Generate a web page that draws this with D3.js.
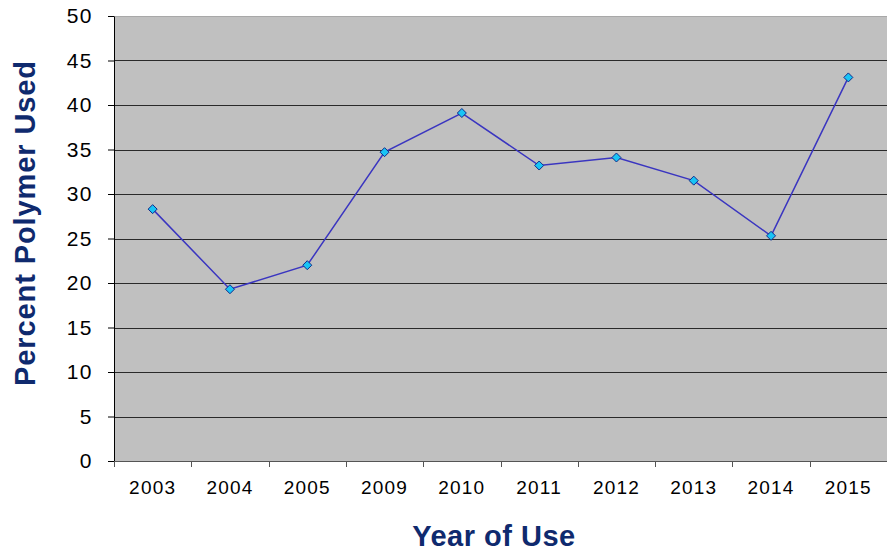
<!DOCTYPE html>
<html>
<head>
<meta charset="utf-8">
<script src="https://cdn.jsdelivr.net/npm/d3@7"></script>
<style>
  html, body { margin: 0; padding: 0; background: #ffffff; }
  svg { display: block; }
  text { font-family: Arial, "Liberation Sans", sans-serif; }
</style>
</head>
<body>
<svg id="chart" width="887" height="555"></svg>
<script>
// Year of use and share of polymer used (%)
const years = ["2003", "2004", "2005", "2009", "2010", "2011", "2012", "2013", "2014", "2015"];
const percentUsed = [28.3, 19.3, 22.0, 34.7, 39.1, 33.2, 34.1, 31.5, 25.3, 43.1];
const yTicks = [0, 5, 10, 15, 20, 25, 30, 35, 40, 45, 50];

const svg = d3.select("#chart");
const margin = { left: 114, right: 0, top: 16, bottom: 94 };
const width = 887 - margin.left - margin.right;
const height = 555 - margin.top - margin.bottom;

const g = svg.append("g").attr("transform", `translate(${margin.left},${margin.top})`);

const x = d3.scaleBand().domain(years).range([0, width]);
const y = d3.scaleLinear().domain([0, 50]).range([height, 0]);

// plot background
g.append("rect")
  .attr("width", width).attr("height", height)
  .attr("fill", "#c0c0c0");

// horizontal grid lines
g.append("g")
  .selectAll("line")
  .data(yTicks.filter(d => d > 0))
  .join("line")
  .attr("x1", 0).attr("x2", width)
  .attr("y1", d => Math.round(y(d)) + 0.5).attr("y2", d => Math.round(y(d)) + 0.5)
  .attr("stroke", d => d === 50 ? "#a8a8a8" : "#2a2a2a")
  .attr("stroke-width", 1);

// y axis
const yAxis = g.append("g")
  .call(d3.axisLeft(y).tickValues(yTicks).tickSize(6).tickPadding(15).tickSizeOuter(0));
yAxis.select(".domain").attr("stroke", "#000");
yAxis.selectAll(".tick line").attr("stroke", "#000");
yAxis.selectAll(".tick text")
  .attr("font-size", 21).attr("fill", "#000")
  .attr("letter-spacing", 1.5)
  .attr("font-family", "Arial, 'Liberation Sans', sans-serif");

// x axis with ticks on category boundaries
const xAxisG = g.append("g").attr("transform", `translate(0,${height})`);
xAxisG.append("line")
  .attr("x1", 0).attr("x2", width).attr("y1", 0.5).attr("y2", 0.5)
  .attr("stroke", "#555");
xAxisG.selectAll("line.tk")
  .data(years.map(d => x(d)))
  .join("line").attr("class", "tk")
  .attr("x1", d => Math.round(d) + 0.5).attr("x2", d => Math.round(d) + 0.5)
  .attr("y1", 0).attr("y2", 6)
  .attr("stroke", "#555");
xAxisG.selectAll("text")
  .data(years)
  .join("text")
  .attr("x", d => x(d) + x.bandwidth() / 2)
  .attr("y", 33)
  .attr("text-anchor", "middle")
  .attr("font-size", 19)
  .attr("letter-spacing", 1.2)
  .attr("fill", "#000")
  .text(d => d);

// data line
const line = d3.line()
  .x((d, i) => x(years[i]) + x.bandwidth() / 2)
  .y(d => y(d));
g.append("path")
  .datum(percentUsed)
  .attr("d", line)
  .attr("fill", "none")
  .attr("stroke", "#3a35c0")
  .attr("stroke-width", 1.5);

// diamond markers
g.append("g")
  .selectAll("path")
  .data(percentUsed)
  .join("path")
  .attr("transform", (d, i) => `translate(${x(years[i]) + x.bandwidth() / 2},${y(d)})`)
  .attr("d", "M0,-4.5L4.5,0L0,4.5L-4.5,0Z")
  .attr("fill", "#19c4f5")
  .attr("stroke", "#102a8a")
  .attr("stroke-width", 1);

// axis titles
svg.append("text")
  .attr("x", 494).attr("y", 546)
  .attr("text-anchor", "middle")
  .attr("font-size", 29).attr("font-weight", "bold")
  .attr("letter-spacing", 0.5)
  .attr("fill", "#0f2a6e")
  .text("Year of Use");

svg.append("text")
  .attr("transform", "translate(35,223) rotate(-90)")
  .attr("text-anchor", "middle")
  .attr("font-size", 29).attr("font-weight", "bold")
  .attr("letter-spacing", 0.9)
  .attr("fill", "#0f2a6e")
  .text("Percent Polymer Used");
</script>
</body>
</html>
